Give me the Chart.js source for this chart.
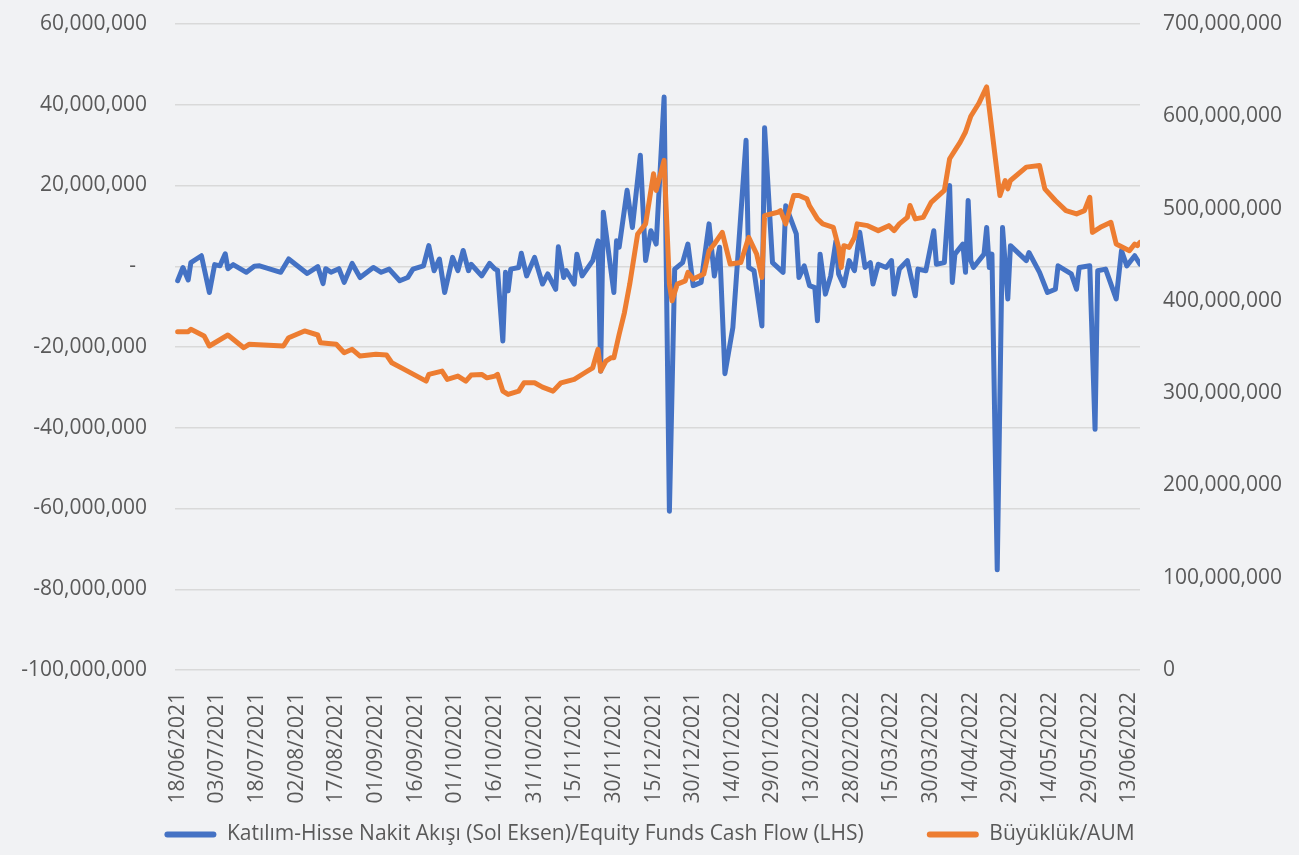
<!DOCTYPE html>
<html>
<head>
<meta charset="utf-8">
<script src="https://cdn.jsdelivr.net/npm/chart.js@4.4.1/dist/chart.umd.min.js"></script>
<style>
  html, body { margin: 0; padding: 0; background: #f1f2f4; }
  #wrap { width: 1299px; height: 855px; position: relative; }
</style>
</head>
<body>
<div id="wrap"><canvas id="flow-chart"></canvas></div>
<script>
// days counted from 18/06/2021
const startDay = [2021, 5, 18];
const xTickDays = [0, 15, 30, 45, 60, 75, 90, 105, 120, 135, 150, 165, 180, 195, 210, 225, 240, 255, 270, 285, 300, 315, 330, 345, 360];

// Katılım-Hisse cash flow, millions TRY (left axis)
const flowDays = [0, 2, 4, 5, 9, 12, 14, 16, 18, 19, 21, 26, 29, 31, 39, 42, 49, 53, 55, 56,
  58, 61, 63, 66, 69, 74, 77, 80, 84, 87, 89, 93, 95, 97, 99, 101, 104, 106, 108, 110,
  111, 115, 118, 120, 121, 123, 124, 125, 126, 129, 130, 132, 135, 138, 140, 143, 144, 146, 147, 150,
  151, 153, 157, 159, 160, 161, 165, 166, 167, 170, 172, 175, 177, 179, 181, 184, 186, 188, 191, 193,
  195, 198, 201, 203, 205, 207, 210, 215, 216, 218, 221, 222, 225, 229, 230, 234, 235, 237,
  239, 241, 242, 243, 245, 247, 249, 250, 252, 254, 256, 258, 260, 262, 263, 265, 268, 270, 271, 273,
  276, 279, 280, 283, 286, 287, 290, 292, 293, 294, 297, 298, 299, 300, 301, 305, 306, 307, 308, 310,
  312, 314, 315, 321, 322, 326, 329, 332, 333, 338, 340, 341, 345, 347, 348, 351, 355, 357, 359, 362,
  364];
const flowValues = [-3.6, -0.3, -3.4, 0.9, 2.6, -6.5, 0.4, 0.1, 3.1, -0.6, 0.4, -1.5, 0, 0.1, -1.5, 1.8, -1.8, -0.1, -4.3, -0.6,
  -1.5, -0.6, -4.0, 0.7, -2.8, -0.3, -1.5, -0.7, -3.6, -2.8, -0.7, 0.1, 5.1, -1.1, 1.8, -6.5, 2.2, -1.1, 3.9, -1.1,
  0.5, -2.4, 0.7, -0.7, -1.0, -18.5, -1.5, -6.1, -0.7, -0.3, 3.2, -2.4, 2.2, -4.4, -1.9, -5.7, 4.8, -2.8, -1.1, -4.4,
  3.0, -2.4, 1.4, 6.3, -26.0, 13.4, -6.5, 6.3, 4.7, 18.8, 9.6, 27.5, 1.4, 8.8, 5.5, 41.9, -60.7, -0.7, 0.9, 5.5,
  -4.8, -4.0, 10.5, -2.4, 4.7, -26.6, -15.2, 31.2, -0.3, -1.1, -14.8, 34.3, 0.9, -1.5, 15.0, 8.0, -2.8, 0.1,
  -4.8, -5.3, -13.5, 3.0, -6.9, -2.4, 6.3, -1.9, -4.8, 1.4, -1.1, 8.4, -0.3, 0.9, -4.4, 0.5, -0.3, 1.4, -6.9, -0.7,
  1.4, -7.3, -0.7, -1.1, 8.8, 0.5, 0.9, 20.0, -4.0, 3.0, 5.5, -1.5, 16.3, 1.4, -0.3, 3.0, 9.6, -0.3, 3.0, -75.2,
  9.6, -8.1, 5.1, 1.4, 3.4, -1.5, -6.5, -5.7, 0.1, -1.9, -5.7, -0.3, 0.1, -40.4, -1.1, -0.7, -8.1, 3.9, 0.1, 2.6,
  0.5];

// Büyüklük / AUM, millions TRY (right axis)
const aumDays = [0, 4, 5, 10, 12, 19, 25, 27, 40, 42, 48, 53, 54, 60, 63, 66, 69, 75, 79, 81,
  85, 94, 95, 100, 102, 106, 109, 111, 115, 117, 120, 121, 123, 125, 129, 131, 135, 138, 142, 145,
  150, 154, 157, 159, 160, 162, 164, 165, 167, 169, 171, 174, 177, 180, 181, 184, 186, 187, 189,
  192, 193, 195, 199, 201, 203, 206, 209, 213, 216, 219, 221, 222, 227, 228, 230, 233, 235,
  238, 239, 242, 244, 248, 250, 251, 252, 254, 256, 257, 261, 265, 269, 271, 273, 276, 277, 279, 282,
  285, 290, 292, 294, 296, 298, 300, 303, 306, 311, 313, 314, 315, 321, 326, 328, 332, 336, 340, 343,
  345, 346, 349, 353, 355, 360, 362, 363, 364];
const aumValues = [366.6, 366.6, 369.2, 362.0, 351.1, 363.0, 349.2, 352.9, 351.1, 360.1, 367.4, 363.0, 354.7, 352.9, 343.8, 347.5, 340.2, 342.1, 341.3, 332.9,
  326.8, 313.0, 320.3, 323.9, 314.9, 318.5, 313.0, 319.6, 320.3, 316.6, 318.5, 320.3, 302.2, 298.6, 302.2, 311.2, 311.2, 306.5, 302.2, 311.2,
  314.9, 322.1, 327.5, 347.5, 323.9, 334.8, 338.4, 338.4, 363.8, 387.3, 418.2, 472.5, 483.4, 537.7, 519.6, 552.2, 418.2, 400.0, 418.2,
  421.7, 430.8, 423.6, 429.0, 454.3, 461.6, 474.2, 439.9, 441.6, 468.8, 450.8, 425.3, 492.4, 496.0, 497.8, 483.4, 514.1, 514.1,
  510.5, 503.0, 488.8, 483.4, 479.7, 457.9, 436.2, 459.8, 457.9, 468.8, 483.4, 481.5, 476.1, 481.5, 476.1, 483.4, 490.5, 503.3, 488.8, 490.5,
  506.8, 519.6, 554.0, 563.0, 572.0, 583.0, 600.0, 613.8, 631.8, 514.1, 530.4, 521.4, 530.4, 544.9, 546.7, 521.4, 508.7, 497.8, 494.2, 497.8,
  512.3, 474.2, 479.7, 485.1, 461.6, 454.3, 461.6, 459.8, 463.4];

function dayLabel(d) {
  const dt = new Date(startDay[0], startDay[1], startDay[2] + d);
  const dd = String(dt.getDate()).padStart(2, '0');
  const mm = String(dt.getMonth() + 1).padStart(2, '0');
  return dd + '/' + mm + '/' + dt.getFullYear();
}

function toPoints(days, vals) {
  return days.map((d, i) => ({ x: d, y: vals[i] * 1e6 }));
}

// drop the half-label padding chart.js adds above/below vertical axes
function fixWidth(w) {
  return (scale) => { scale.width = w; scale.paddingTop = 0; scale.paddingBottom = 0; };
}

const textColor = '#595959';
const fontFam = "'Open Sans', 'Noto Sans', sans-serif";

new Chart(document.getElementById("flow-chart"), {
  type: 'line',
  data: {
    datasets: [{
      label: "Katılım-Hisse Nakit Akışı (Sol Eksen)/Equity Funds Cash Flow (LHS)",
      data: toPoints(flowDays, flowValues),
      borderColor: "#4472c4",
      backgroundColor: "#4472c4",
      borderWidth: 5,
      borderJoinStyle: 'round',
      borderCapStyle: 'round',
      pointRadius: 0,
      tension: 0,
      fill: false,
      yAxisID: 'y',
      order: 2
    }, {
      label: "Büyüklük/AUM",
      data: toPoints(aumDays, aumValues),
      borderColor: "#ed7d31",
      backgroundColor: "#ed7d31",
      borderWidth: 5,
      borderJoinStyle: 'round',
      borderCapStyle: 'round',
      pointRadius: 0,
      tension: 0,
      fill: false,
      yAxisID: 'y2',
      order: 1
    }]
  },
  options: {
    responsive: true,
    maintainAspectRatio: false,
    animation: false,
    layout: { padding: { top: 24, left: 0, right: 0, bottom: 0 } },
    scales: {
      x: {
        type: 'linear',
        min: -1,
        max: 364,
        grid: { display: false },
        border: { display: false },
        afterBuildTicks: (scale) => { scale.ticks = xTickDays.map(v => ({ value: v })); },
        afterFit: (scale) => { scale.height = 140; scale.paddingLeft = 0; scale.paddingRight = 0; },
        ticks: {
          autoSkip: false,
          minRotation: 90,
          maxRotation: 90,
          padding: 14,
          color: textColor,
          font: { family: fontFam, size: 21 },
          callback: (v) => dayLabel(v)
        }
      },
      y: {
        position: 'left',
        min: -100000000,
        max: 60000000,
        afterFit: fixWidth(175),
        grid: { color: '#d9d9d9', lineWidth: 1.5, drawTicks: false },
        border: { display: false },
        ticks: {
          stepSize: 20000000,
          padding: 28,
          color: textColor,
          font: { family: fontFam, size: 21 },
          callback: (v) => v === 0 ? '-  ' : v.toLocaleString('en-US')
        }
      },
      y2: {
        position: 'right',
        min: 0,
        max: 700000000,
        afterFit: fixWidth(159),
        grid: { display: false, drawTicks: false },
        border: { display: false },
        ticks: {
          stepSize: 100000000,
          padding: 23,
          color: textColor,
          font: { family: fontFam, size: 21 },
          callback: (v) => v === 0 ? '0' : v.toLocaleString('en-US')
        }
      }
    },
    plugins: {
      title: { display: false },
      tooltip: { enabled: false },
      legend: {
        display: true,
        position: 'bottom',
        labels: {
          color: textColor,
          font: { family: fontFam, size: 21 },
          boxWidth: 52,
          boxHeight: 6,
          padding: 14,
          useBorderRadius: true,
          borderRadius: 3,
          sort: (a, b) => a.datasetIndex - b.datasetIndex,
          // wider gap after the first item, as in the original legend
          generateLabels: (chart) => Chart.defaults.plugins.legend.labels.generateLabels(chart)
            .map(l => Object.assign(l, {
              lineWidth: 0,
              text: l.datasetIndex === 0 ? l.text + '         ' : l.text
            }))
        }
      }
    }
  }
});
</script>
</body>
</html>
